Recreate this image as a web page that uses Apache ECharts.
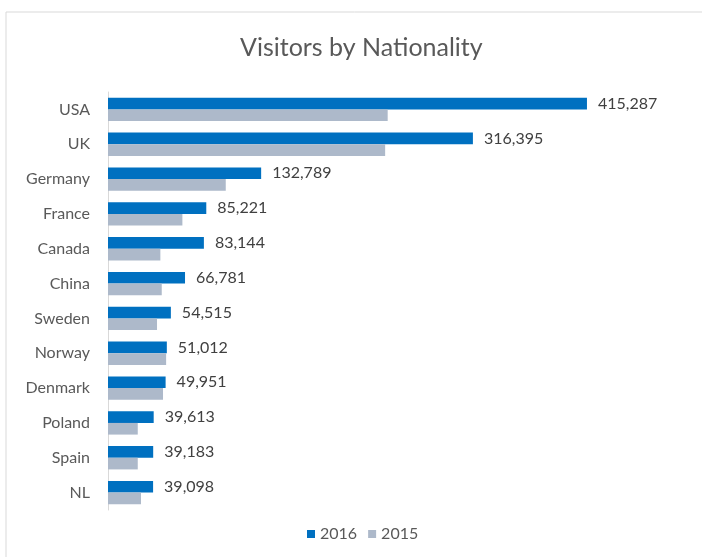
<!DOCTYPE html>
<html>
<head>
<meta charset="utf-8">
<script src="https://cdn.jsdelivr.net/npm/echarts@6/dist/echarts.min.js"></script>
<style>
  html, body { margin: 0; padding: 0; background: #fff; }
  #chart { width: 702px; height: 557px; }
</style>
</head>
<body>
<div id="chart"></div>
<script type="text/javascript">
  var countries = ['USA', 'UK', 'Germany', 'France', 'Canada', 'China', 'Sweden', 'Norway', 'Denmark', 'Poland', 'Spain', 'NL'];
  var visitors2016 = [415287, 316395, 132789, 85221, 83144, 66781, 54515, 51012, 49951, 39613, 39183, 39098];
  // 2015 has no labels in the picture
  var visitors2015 = [242500, 240300, 102100, 64500, 45400, 46600, 42500, 50400, 47700, 25800, 25800, 28600];

  var fontName = 'Lato, Calibri, sans-serif';
  var chart = echarts.init(document.getElementById('chart'));

  chart.setOption({
    animation: false,
    title: {
      text: 'Visitors by Nationality',
      left: 235,
      top: 30,
      textStyle: { fontFamily: fontName, fontSize: 25, fontWeight: 'normal', color: '#595959' }
    },
    graphic: [{
      type: 'rect',
      shape: { x: 6, y: 12, width: 720, height: 580 },
      style: { fill: 'none', stroke: '#d9d9d9', lineWidth: 1 },
      silent: true
    }],
    legend: {
      bottom: 10,
      left: 302,
      itemWidth: 8,
      itemHeight: 8,
      itemGap: 11,
      icon: 'rect',
      textStyle: { fontFamily: fontName, fontSize: 16, color: '#595959' },
      data: ['2016', '2015']
    },
    grid: { left: 108, right: 75, top: 92, bottom: 47 },
    xAxis: {
      type: 'value',
      min: 0,
      max: 450000,
      show: false
    },
    yAxis: {
      type: 'category',
      inverse: true,
      data: countries,
      axisLine: { lineStyle: { color: '#d9d9d9' } },
      axisTick: { show: false },
      axisLabel: { margin: 18, fontFamily: fontName, fontSize: 16, color: '#595959' }
    },
    series: [
      {
        name: '2016',
        type: 'bar',
        data: visitors2016,
        barGap: '0%',
        barCategoryGap: '33%',
        itemStyle: { color: '#0070C0' },
        label: {
          show: true,
          position: 'right',
          distance: 11,
          fontFamily: fontName,
          fontSize: 16,
          color: '#404040',
          formatter: function (p) { return p.value.toLocaleString('en-US'); }
        }
      },
      {
        name: '2015',
        type: 'bar',
        data: visitors2015,
        barGap: '0%',
        barCategoryGap: '33%',
        itemStyle: { color: '#ADB9CA' }
      }
    ]
  });
</script>
</body>
</html>
